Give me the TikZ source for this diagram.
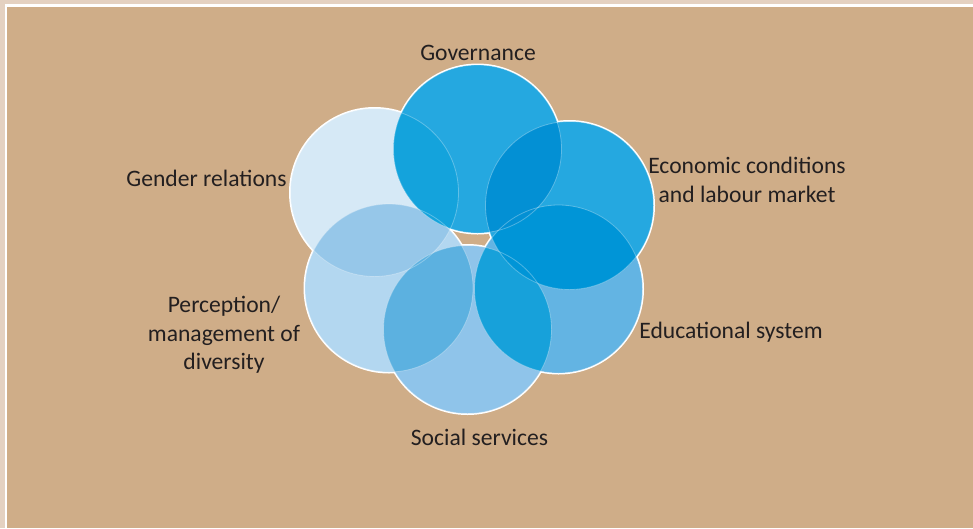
\documentclass[tikz,border=0pt]{standalone}
\usepackage{fontspec}
\setmainfont{Carlito}
\usetikzlibrary{positioning}
\definecolor{bandlight}{HTML}{E4D1C1}
\definecolor{tanbg}{HTML}{CFAD88}
\definecolor{txtgray}{HTML}{231F20}
\definecolor{govblue}{HTML}{25A8E0}
\definecolor{ecoblue}{HTML}{25A8E0}
\definecolor{edublue}{HTML}{63B4E3}
\definecolor{socblue}{HTML}{8FC4EA}
\definecolor{perblue}{HTML}{B3D7F0}
\definecolor{genblue}{HTML}{D6E9F6}
\definecolor{govgen}{HTML}{14A3DC}
\definecolor{goveco}{HTML}{0390D4}
\definecolor{ecoedu}{HTML}{0095D7}
\definecolor{edusoc}{HTML}{17A1DA}
\definecolor{socper}{HTML}{5CB1E0}
\definecolor{pergen}{HTML}{96C7E9}

\begin{document}
\begin{tikzpicture}[x=1pt, y=-1pt,
    ring/.style={circle, draw=white, line width=3pt, minimum size=168pt, inner sep=0pt},
    lbl/.style={font=\fontsize{23.6}{28.6}\selectfont, text=txtgray, align=center}]
    \useasboundingbox (0,0) rectangle (973,528);
    \fill[bandlight] (0,0) rectangle (973,528);
    \fill[white] (5,4.3) rectangle (973,528);
    \fill[tanbg] (7.3,6.7) rectangle (973,528);

    \node[ring] (gen) at (374.5,192.5) {};
    \node[ring] (per) at (389,288) {};
    \node[ring] (soc) at (467.5,329.5) {};
    \node[ring] (edu) at (558.5,289) {};
    \node[ring] (eco) at (569.5,205.5) {};
    \node[ring] (gov) at (477.5,149) {};

    \fill[genblue] (gen.center) circle (84);
    \fill[perblue] (per.center) circle (84);
    \fill[socblue] (soc.center) circle (84);
    \fill[edublue] (edu.center) circle (84);
    \fill[ecoblue] (eco.center) circle (84);
    \fill[govblue] (gov.center) circle (84);

    \begin{scope}
        \clip (gen.center) circle (84);
        \fill[pergen] (per.center) circle (84);
        \fill[govgen] (gov.center) circle (84);
    \end{scope}
    \begin{scope}
        \clip (soc.center) circle (84);
        \fill[socper] (per.center) circle (84);
        \fill[edusoc] (edu.center) circle (84);
    \end{scope}
    \begin{scope}
        \clip (eco.center) circle (84);
        \fill[ecoedu] (edu.center) circle (84);
        \fill[goveco] (gov.center) circle (84);
    \end{scope}

    \foreach \c in {gen,per,soc,edu,eco,gov}
        \draw[white, draw opacity=0.3, line width=0.8pt] (\c.center) circle (84);

    \node[lbl] (govl) at (478,53) {Governance};
    \node[lbl] (ecol) at (747,180) {Economic conditions\\and labour market};
    \node[lbl] (edul) at (731,332) {Educational system};
    \node[lbl] (socl) at (479.5,437) {Social services};
    \node[lbl] (genl) at (206.5,178) {Gender relations};
    \node[lbl] (perl) at (224,335) {Perception/\\management of\\diversity};
\end{tikzpicture}
\end{document}
